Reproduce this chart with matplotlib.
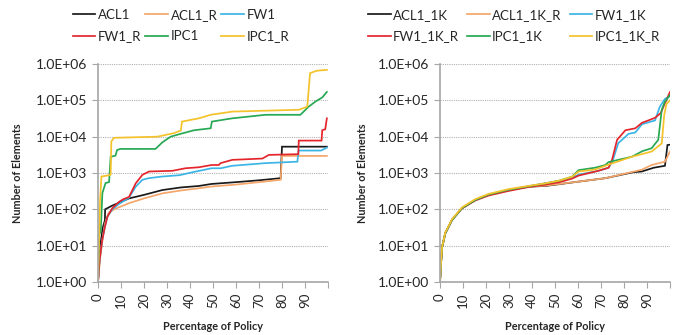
import matplotlib
matplotlib.use("Agg")
import matplotlib.pyplot as plt

plt.rcParams['font.family'] = ['Lato', 'DejaVu Sans']

# ---------------- data: left chart ----------------
acl1_x = [0, 1, 2, 3.0, 3.1, 6, 10, 13.5, 20, 28, 36, 43.9, 49.4, 60, 70, 79.4, 80, 99.5]
acl1_y = [1, 10, 30, 50, 100, 125, 160, 200, 250, 340, 400, 440, 500, 560, 630, 720, 5300, 5300]

acl1r_x = [0, 1, 2, 3, 4.6, 7, 10, 13.5, 20, 28, 36, 43.9, 49.4, 60, 70, 79.4, 80, 99.5]
acl1r_y = [1, 5, 15, 40, 80, 100, 120, 148, 200, 275, 330, 380, 425, 480, 560, 650, 2950, 2950]

fw1_x = [0, 0.7, 1.8, 3, 4.1, 6.2, 9.1, 13.5, 16.4, 19.3, 22, 28, 35.4, 42.6, 49.4,
         53.3, 58.4, 72.9, 86.7, 87.2, 97, 99.5]
fw1_y = [1, 4, 14, 33, 63, 100, 140, 210, 420, 650, 720, 800, 870, 1100, 1350,
         1350, 1580, 1870, 2050, 4150, 4150, 5000]

fw1r_x = [0, 0.7, 1.8, 3, 4.1, 6.2, 9.1, 11, 13.5, 16.4, 19.3, 22.2, 32.4, 38, 43.9,
          49.4, 52.5, 53.3, 58.4, 71.5, 74.3, 87.1, 87.3, 97.2, 97.5, 98.8, 99.5]
fw1r_y = [1, 4, 14, 33, 63, 107, 160, 190, 220, 520, 890, 1100, 1150, 1350, 1440,
          1660, 1660, 1870, 2300, 2500, 3150, 3300, 7800, 7800, 15000, 16000, 32000]

ipc1_x = [0, 0.5, 1.2, 1.9, 3.3, 4.8, 5.5, 7.6, 8.3, 9.7, 25, 28, 31.6, 36, 41.7,
          49, 49.5, 58.4, 72.9, 88, 91.6, 94.6, 97.5, 99.5]
ipc1_y = [1, 20, 25, 280, 530, 560, 2800, 3000, 4300, 4600, 4600, 7000, 10000, 12000, 15000,
          17000, 26000, 32000, 40000, 40000, 67000, 93000, 120000, 170000]

ipc1r_x = [0, 0.9, 1.5, 4, 5.5, 5.8, 7, 25.8, 33, 36, 36.5, 43.9, 49, 58.4, 87.4,
           91, 92.2, 95, 99.5]
ipc1r_y = [1, 180, 800, 850, 900, 7400, 9300, 10000, 12500, 14700, 26000, 32000, 40000, 49000, 55000,
           67000, 560000, 650000, 690000]

# ---------------- data: right chart ----------------
acl1k_x = [0, 0.4, 0.9, 2.3, 5.2, 9.5, 15.3, 21.1, 29.8, 38.4, 45.9, 60.3, 71.9, 84, 87.7, 93, 97.8, 98.9, 100]
acl1k_y = [1, 3, 9, 22, 51, 107, 180, 250, 340, 420, 440, 580, 720, 1050, 1100, 1400, 1580, 5900, 6000]

acl1kr_x = [0, 0.4, 0.9, 2.3, 5.2, 9.5, 15.3, 21.1, 29.8, 38.4, 45.9, 60.3, 71.9, 87.7, 92, 97.8, 100]
acl1kr_y = [1, 3, 9, 22, 51, 107, 180, 250, 340, 420, 450, 580, 720, 1230, 1660, 2050, 3900]

fw1k_x = [0, 0.4, 0.9, 2.3, 5.2, 9.5, 15.3, 21.1, 29.8, 38.4, 45.9, 52, 57.4, 60.3, 68.9, 73.3,
          75, 77.5, 82, 84.9, 87.8, 93.5, 95.5, 97.8, 100]
fw1k_y = [1, 3, 9, 22, 51, 107, 180, 250, 340, 430, 520, 600, 750, 900, 1150, 1400,
          2100, 6600, 12000, 13000, 22000, 28000, 65000, 110000, 130000]

fw1kr_x = [0, 0.4, 0.9, 2.3, 5.2, 9.5, 15.3, 21.1, 29.8, 38.4, 45.9, 52, 57.4, 60.3, 68.9, 73.3,
           74.8, 77, 80.6, 84.9, 87.8, 93.5, 96, 97.8, 100]
fw1kr_y = [1, 3, 9, 22, 51, 105, 175, 240, 320, 410, 480, 560, 700, 850, 1150, 1400,
           2300, 8200, 15000, 17000, 24000, 33000, 45000, 83000, 170000]

ipc1k_x = [0, 0.4, 0.9, 2.3, 5.2, 9.5, 15.3, 21.1, 29.8, 38.4, 45.9, 52, 57.4, 60.3, 67.5, 71.9,
           73.3, 83.4, 88, 92, 94.9, 96.4, 97.8, 100]
ipc1k_y = [1, 3, 9, 22, 51, 107, 180, 255, 345, 430, 520, 620, 790, 1200, 1400, 1660,
           2000, 2800, 4000, 4800, 8200, 55000, 93000, 140000]

ipc1kr_x = [0, 0.4, 0.9, 2.3, 5.2, 9.5, 15.3, 21.1, 29.8, 38.4, 45.9, 52, 57.4, 60.3, 67.5, 73.3,
            83.4, 92, 95.6, 96.4, 97.5, 98.5, 100]
ipc1kr_y = [1, 3, 9, 23, 53, 112, 190, 265, 360, 440, 520, 620, 790, 1100, 1250, 1700,
            2800, 3900, 5900, 6500, 40000, 80000, 100000]

left_names = ['ACL1', 'ACL1_R', 'FW1', 'FW1_R', 'IPC1', 'IPC1_R']
right_names = ['ACL1_1K', 'ACL1_1K_R', 'FW1_1K', 'FW1_1K_R', 'IPC1_1K', 'IPC1_1K_R']
y_ticks = [1, 10, 100, 1000, 10000, 100000, 1000000]
y_tick_labels = ['1.0E+00', '1.0E+01', '1.0E+02', '1.0E+03', '1.0E+04', '1.0E+05', '1.0E+06']
x_ticks = [0, 10, 20, 30, 40, 50, 60, 70, 80, 90, 100]
x_tick_labels = ['0', '10', '20', '30', '40', '50', '60', '70', '80', '90', '']

colors = ['#1a1a1a', '#F4A66B', '#3BB5E6', '#E4262C', '#27A853', '#F4C22B']

left_series = [(acl1_x, acl1_y), (acl1r_x, acl1r_y), (fw1_x, fw1_y),
               (fw1r_x, fw1r_y), (ipc1_x, ipc1_y), (ipc1r_x, ipc1r_y)]
right_series = [(acl1k_x, acl1k_y), (acl1kr_x, acl1kr_y), (fw1k_x, fw1k_y),
                (fw1kr_x, fw1kr_y), (ipc1k_x, ipc1k_y), (ipc1kr_x, ipc1kr_y)]

W, H = 679, 335
fig = plt.figure(figsize=(W / 100, H / 100), dpi=100)

axL = fig.add_axes([98 / W, (H - 282) / H, 230 / W, 218 / H])
axR = fig.add_axes([440 / W, (H - 282) / H, 230 / W, 218 / H])

grey = '#A6A6A6'
txt = '#262626'


def style(ax, series, names, ylab_x, legend_cx, colspace):
    handles = []
    for (xs, ys), c, n in zip(series, colors, names):
        h, = ax.plot(xs, ys, color=c, lw=1.25, label=n, solid_joinstyle='miter')
        handles.append(h)
    ax.set_yscale('log')
    ax.set_ylim(1, 1e6)
    ax.set_xlim(0, 100)
    ax.set_yticks(y_ticks)
    ax.set_yticklabels(y_tick_labels)
    ax.minorticks_off()
    ax.set_xticks(x_ticks)
    ax.set_xticklabels(x_tick_labels, rotation=90)
    ax.tick_params(axis='y', length=4, width=0.8, color=grey, labelsize=10, pad=4,
                   labelcolor=txt)
    ax.tick_params(axis='x', length=4, width=0.8, color=grey, labelsize=9.5, pad=4,
                   labelcolor=txt)
    for s in ['top', 'right']:
        ax.spines[s].set_visible(False)
    for s in ['left', 'bottom']:
        ax.spines[s].set_color(grey)
        ax.spines[s].set_linewidth(1.2)
    ax.yaxis.grid(True, linestyle=(0, (1, 1)), color='#B0B0B0', lw=0.8)
    ax.set_axisbelow(True)
    ax.set_ylabel('Number of Elements', fontsize=7.8, fontweight='bold', color=txt,
                  va='center')
    ax.yaxis.set_label_coords(ylab_x, 0.5)
    ax.set_xlabel('Percentage of Policy', fontsize=7.8, fontweight='bold', color=txt,
                  va='center')
    ax.xaxis.set_label_coords(0.5, -0.202)
    order = [0, 3, 1, 4, 2, 5]
    fig.legend([handles[i] for i in order], [names[i] for i in order],
               loc='center', bbox_to_anchor=(legend_cx / W, 1 - 25.5 / H),
               ncol=3, frameon=False, fontsize=9.5, handlelength=1.7,
               handletextpad=0.2, columnspacing=colspace, labelspacing=0.75,
               borderpad=0, labelcolor=txt)


style(axL, left_series, left_names, -0.348, 181, 0.3)
style(axR, right_series, right_names, -0.335, 514, 0.6)

fig.savefig('out.png', dpi=100)
